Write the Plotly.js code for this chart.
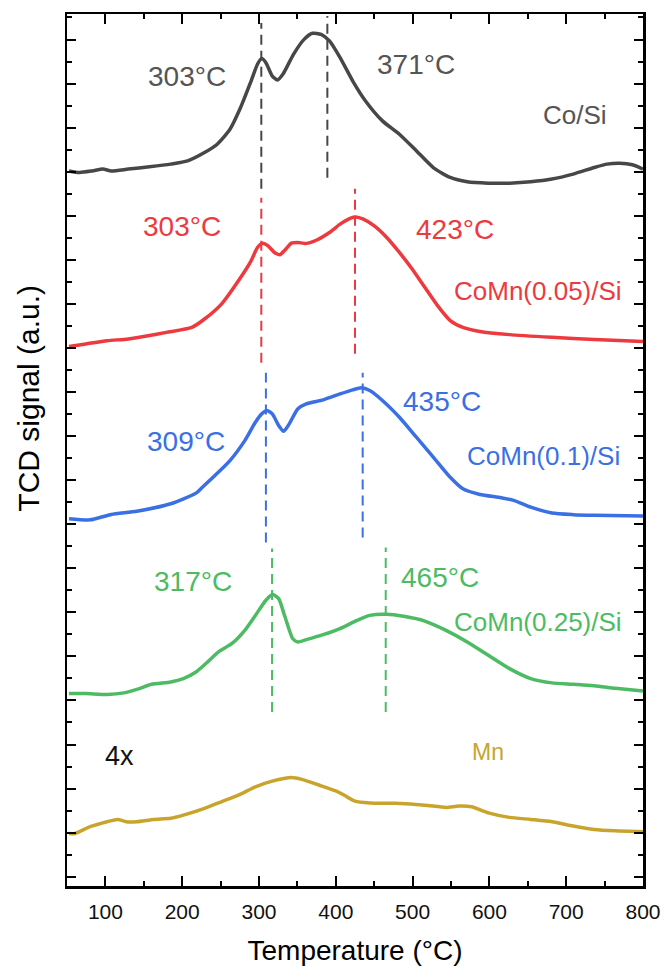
<!DOCTYPE html>
<html>
<head>
<meta charset="utf-8">
<script src="https://cdn.plot.ly/plotly-3.0.1.min.js"></script>
<style>html,body{margin:0;padding:0;background:#fff;}#chart{width:666px;height:966px;}</style>
</head>
<body>
<div id="chart"></div>
<script>
// ---- Data (Temperature in °C, TCD signal in a.u., curves already vertically offset) ----
const coSiT = [52.6,66.3,82.9,96.7,107.7,129.8,157.4,185,207,229,245.6,262.2,276,289.7,298,303.5,309,317.3,323.9,331.1,344.9,358.7,369.7,380.8,391.8,405.6,422.1,438.7,460.7,482.8,504.9,526.9,549,571.1,598.6,626.2,653.8,681.4,709,736.5,753.1,769.6,786.2,800];
const coSiY = [31.58,31.51,31.58,31.66,31.58,31.66,31.76,31.88,32.02,32.39,32.76,33.42,34.38,35.55,36.29,36.55,36.36,35.77,35.6,35.85,36.73,37.39,37.66,37.61,37.32,36.58,35.55,34.67,33.79,33.2,32.47,31.73,31.29,31.10,31.04,31.04,31.10,31.22,31.44,31.73,31.88,31.92,31.85,31.66];

const coMn005T = [52.6,74.6,102.2,129.8,157.4,179.4,212.5,229.1,251.1,273.2,289.7,298,304.6,311.8,320.1,327.3,333.9,342.2,350.4,361.5,375.2,391.8,405.6,419.4,426,435.9,449.7,466.3,482.8,499.4,515.9,532.5,549,565.5,587.6,626.2,681.4,736.5,800];
const coMn005Y = [23.83,23.94,24.08,24.16,24.31,24.45,24.67,25.04,25.70,26.73,27.61,28.20,28.39,28.27,27.98,27.88,28.09,28.39,28.42,28.38,28.53,28.86,29.23,29.50,29.55,29.45,29.16,28.64,27.98,27.25,26.44,25.63,24.97,24.67,24.49,24.35,24.23,24.13,24.05];

const coMn01T = [52.6,80.1,107.7,140.8,185,218,226.3,240.1,262.2,281.5,295.3,303.5,310.2,317.3,325.6,332.2,339.4,350.4,361.5,383.5,405.6,422.1,433.2,444.2,460.7,482.8,504.9,526.9,549,565.5,587.6,615.2,631.7,653.8,681.4,709,736.5,800];
const coMn01Y = [16.22,16.17,16.41,16.55,16.88,17.35,17.61,18.05,18.79,19.67,20.48,20.85,21.00,20.85,20.34,20.08,20.41,21.07,21.29,21.47,21.73,21.91,22.00,21.88,21.44,20.70,19.82,18.94,18.05,17.54,17.29,17.15,17.03,16.73,16.47,16.40,16.37,16.34];

const coMn025T = [52.6,74.6,102.2,124.3,140.8,160.1,185,201.5,218,234.6,248.4,264.9,281.5,295.3,309,317.9,325.6,333.9,343.8,350.4,361.5,383.5,405.6,427.6,444.2,466.2,488.3,515.9,543.5,571.1,598.6,626.2,653.8,681.4,709,736.5,764.1,800];
const coMn025Y = [8.50,8.50,8.46,8.53,8.68,8.91,9.01,9.16,9.45,9.94,10.37,10.71,11.29,11.95,12.62,12.87,12.69,11.88,10.93,10.78,10.88,11.10,11.37,11.73,11.95,12.00,11.91,11.70,11.29,10.78,10.19,9.60,9.16,8.97,8.91,8.84,8.73,8.61];

const mnT = [52.6,60.8,80.1,102.2,116,127,140.8,162.9,185,201.5,229.1,251.1,273.2,295.3,317.3,342.2,355.9,378,400,411,424.9,444.2,477.3,515.9,543.5,560,576.6,598.6,626.2,653.8,681.4,709,736.5,764.1,800];
const mnY = [2.32,2.32,2.62,2.84,2.94,2.84,2.84,2.94,2.99,3.13,3.43,3.72,4.01,4.38,4.63,4.79,4.71,4.46,4.20,4.01,3.75,3.67,3.65,3.57,3.47,3.53,3.50,3.23,3.03,2.94,2.84,2.65,2.50,2.44,2.40];

// Peak marker (dashed) lines: temperature and vertical extent
const peakLineT   = [303, 389, 303, 425, 309, 435, 317, 465];
const peakLineTop = [38.11, 38.42, 30.40, 30.79, 22.67, 22.67, 14.91, 14.95];
const peakLineBot = [30.79, 31.28, 23.11, 23.51, 15.17, 15.39, 7.68, 7.68];
const peakLineSeries = [0, 0, 1, 1, 2, 2, 3, 3];

// Text labels
const labelText = ["303°C","371°C","Co/Si","303°C","423°C","CoMn(0.05)/Si","309°C","435°C","CoMn(0.1)/Si","317°C","465°C","CoMn(0.25)/Si","4x","Mn"];
const labelT    = [205.8, 504.5, 711.8, 199.4, 555.2, 663, 204.5, 538.3, 670.8, 213.6, 535.7, 663, 118.8, 598.7];
const labelY    = [35.73, 36.26, 34.05, 29.11, 28.99, 26.29, 19.63, 21.39, 19.01, 13.45, 13.63, 11.65, 5.73, 5.91];
const labelSeries = [0,0,0,1,1,1,2,2,2,3,3,3,5,4];
const labelSize = [28,28,26,28,28,26,28,28,26,28,28,26,27,23];

const xTickVals = [100,200,300,400,500,600,700,800];

// ---- Styles ----
const curveColors = ['#474747', '#ec3a3f', '#3b6fe4', '#4cbb63', '#c9a42c'];
const textColors  = ['#555555', '#ec3a3f', '#3b6fe4', '#4cbb63', '#c9a42c', '#111111'];
const FONT = 'Arial, "Liberation Sans", sans-serif';

const curves = [[coSiT, coSiY], [coMn005T, coMn005Y], [coMn01T, coMn01Y], [coMn025T, coMn025Y], [mnT, mnY]];
const traces = curves.map((c, i) => ({
  x: c[0], y: c[1], type: 'scatter', mode: 'lines',
  line: {color: curveColors[i], width: 3.5, shape: 'spline', smoothing: 0.6},
  hoverinfo: 'skip', showlegend: false
}));
peakLineT.forEach((t, i) => {
  traces.push({
    x: [t, t], y: [peakLineBot[i], peakLineTop[i]], type: 'scatter', mode: 'lines',
    line: {color: curveColors[peakLineSeries[i]], width: 2, dash: '10px,6px'},
    hoverinfo: 'skip', showlegend: false
  });
});

const annotations = labelText.map((t, i) => ({
  x: labelT[i], y: labelY[i], xref: 'x', yref: 'y', text: t, showarrow: false,
  xanchor: 'center', yanchor: 'middle',
  font: {family: FONT, size: labelSize[i], color: textColors[labelSeries[i]]}
}));
annotations.push({
  xref: 'paper', yref: 'paper', x: -0.066, y: 0.56, text: 'TCD signal (a.u.)',
  textangle: -90, showarrow: false, xanchor: 'center', yanchor: 'middle',
  font: {family: FONT, size: 30, color: '#000'}
});

const layout = {
  width: 666, height: 966,
  margin: {l: 67, r: 23, t: 14, b: 80},
  paper_bgcolor: '#fff', plot_bgcolor: '#fff',
  showlegend: false,
  font: {family: FONT, color: '#000'},
  xaxis: {
    range: [50, 800], tickmode: 'array', tickvals: xTickVals, ticktext: xTickVals.map(String),
    ticks: 'inside', ticklen: 10, tickwidth: 2, tickcolor: '#000',
    minor: {dtick: 50, tick0: 50, ticks: 'inside', ticklen: 5, tickwidth: 2, tickcolor: '#000'},
    showline: true, linecolor: '#000', linewidth: 2.5, mirror: 'allticks',
    showgrid: false, zeroline: false, ticklabelstandoff: 5,
    tickfont: {family: FONT, size: 21, color: '#111'},
    title: {text: 'Temperature (°C)', font: {family: FONT, size: 28, color: '#000'}, standoff: 22}
  },
  yaxis: {
    range: [0, 38.51], tickmode: 'linear', tick0: 0.41, dtick: 1.946,
    ticks: 'inside', ticklen: 9, tickwidth: 2, tickcolor: '#000',
    minor: {dtick: 0.973, tick0: 0.41, ticks: 'inside', ticklen: 5, tickwidth: 2, tickcolor: '#000'},
    showticklabels: false,
    showline: true, linecolor: '#000', linewidth: 2.5, mirror: 'allticks',
    showgrid: false, zeroline: false
  },
  annotations: annotations
};

Plotly.newPlot('chart', traces, layout, {staticPlot: true, displayModeBar: false});
</script>
</body>
</html>
